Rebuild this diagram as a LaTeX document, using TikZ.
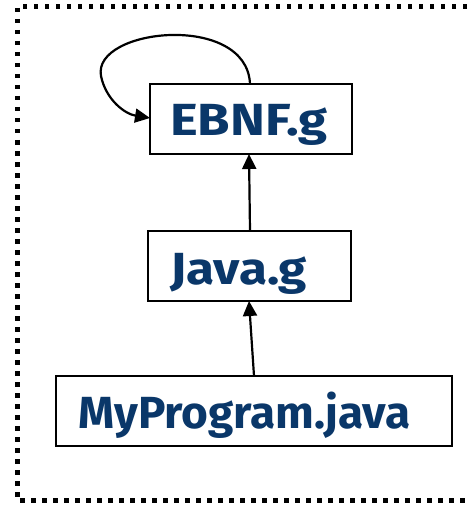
\documentclass[tikz,border=0pt]{standalone}
\usepackage{fontspec}
\setmainfont{Fira Sans}
\usetikzlibrary{arrows.meta}
\definecolor{txtblue}{RGB}{10,55,105}
\tikzset{
  box/.style={draw=black, line width=2pt, fill=white},
  lbl/.style={anchor=base west, inner sep=0pt, text=txtblue, font=\fontsize{45}{48}\selectfont\bfseries},
  conn/.style={draw=black, line width=2.2pt, -{Triangle[length=15pt,width=14pt]}},
}
\begin{document}
\begin{tikzpicture}[x=1pt,y=-1pt]
\useasboundingbox (0,0) rectangle (467,505);
\draw[line width=4.5pt, dash pattern=on 4.5pt off 6.5pt] (478,6.5) -- (17.5,6.5) -- (17.5,500.5) -- (478,500.5);
% boxes
\draw[box] (150,84) rectangle (352,154);
\coordinate (ebnfS) at (249,154);
\coordinate (ebnfT) at (250,84);
\coordinate (ebnfW) at (150,118);
\node[lbl, xscale=1.17] (ebnf) at (170,136) {EBNF.g};
\draw[box] (148,231) rectangle (351,301);
\coordinate (javaN) at (250,231);
\coordinate (javaS) at (249,301);
\node[lbl, xscale=1.14] (java) at (170,284) {Java.g};
\draw[box] (56,376) rectangle (452,446);
\coordinate (progN) at (254,376);
\node[lbl, xscale=1.02] (prog) at (78,428) {MyProgram.java};
% connectors
\draw[conn] (javaN) -- (ebnfS);
\draw[conn] (progN) -- (javaS);
\draw[conn] (ebnfT) .. controls (247,12) and (92,28) .. (101,76) .. controls (106,100) and (125,114) .. (ebnfW);
\end{tikzpicture}
\end{document}
